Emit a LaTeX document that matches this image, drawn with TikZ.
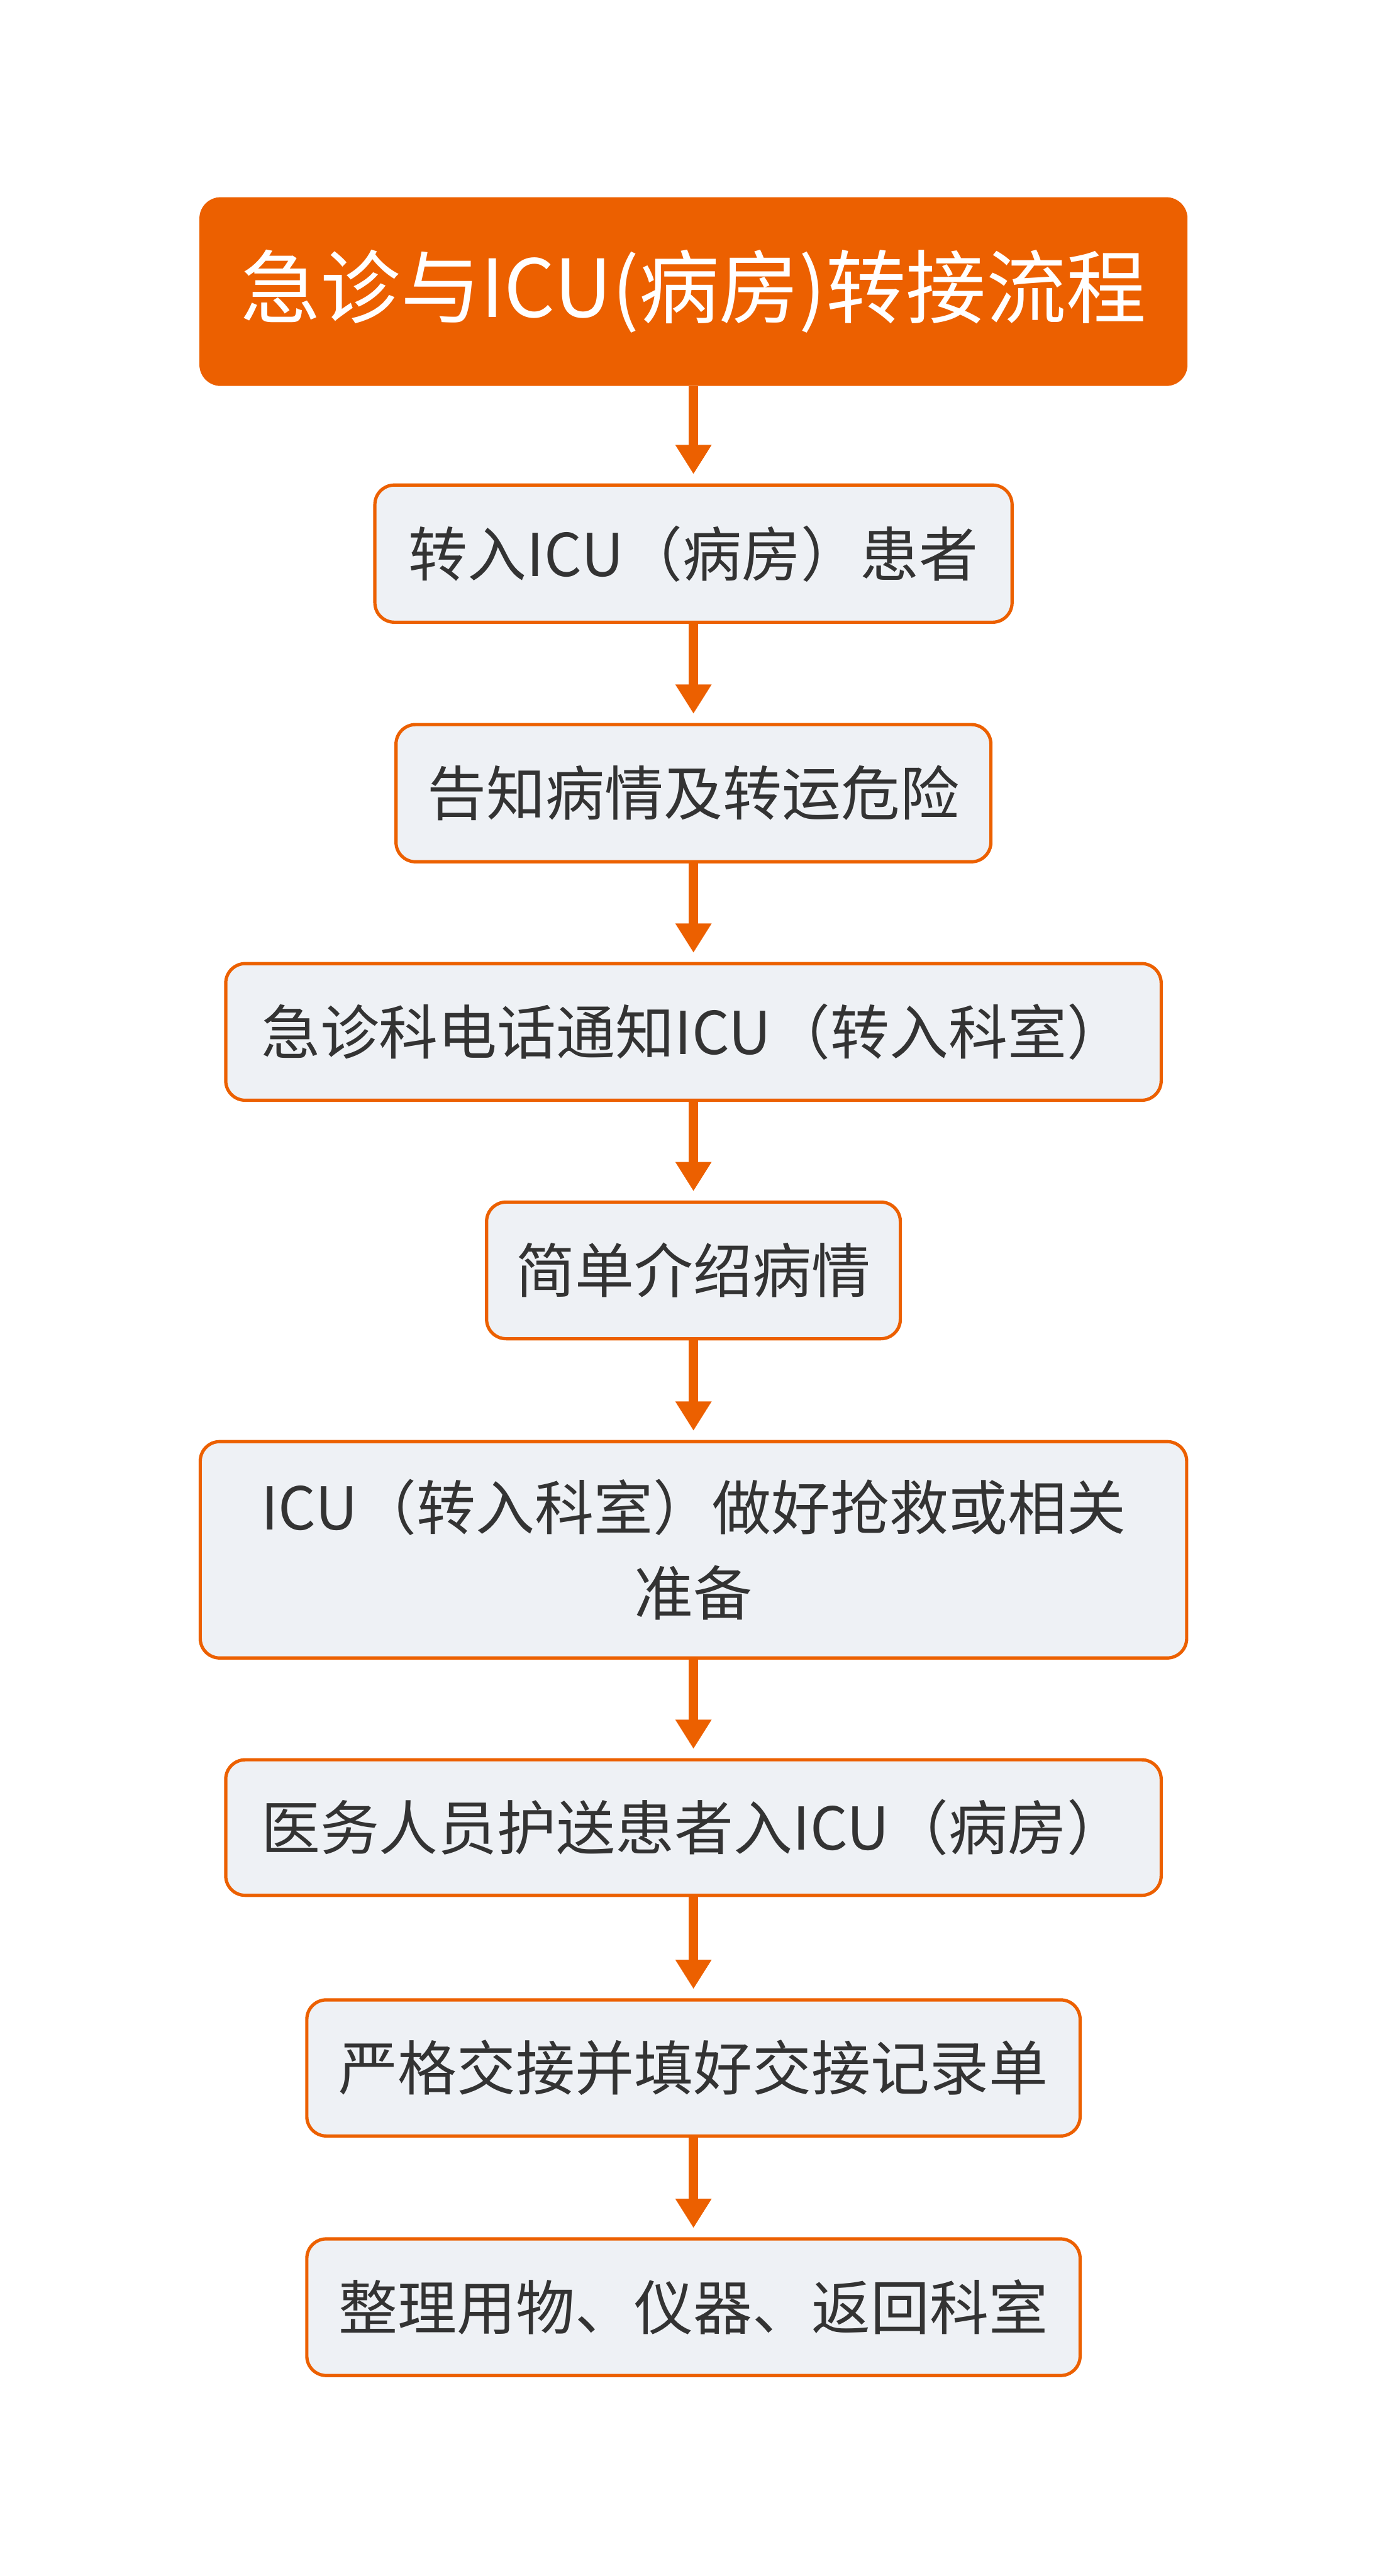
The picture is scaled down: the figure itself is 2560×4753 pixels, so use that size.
\documentclass[tikz,border=0pt]{standalone}
\usepackage{fontspec}
\setmainfont{Noto Sans CJK SC}
\usetikzlibrary{arrows.meta}
\definecolor{ora}{RGB}{236,96,0}
\definecolor{boxfill}{RGB}{238,241,245}
\definecolor{txt}{RGB}{51,51,51}
\tikzset{
  stepbox/.style={draw=ora, line width=0.06cm, fill=boxfill, rounded corners=0.36cm,
    text=txt, align=center, inner sep=0pt, font=\fontsize{31pt}{45pt}\selectfont},
  titlebox/.style={draw=ora, line width=0.02cm, fill=ora, rounded corners=0.38cm,
    text=white, align=center, inner sep=0pt, font=\fontsize{42pt}{50pt}\selectfont,
    minimum width=18.2cm, minimum height=3.46cm},
  arr/.style={draw=ora, line width=0.17cm, shorten >=0.17cm,
    -{Triangle[width=0.63cm,length=0.54cm]}, ora}
}
\begin{document}
\begin{tikzpicture}[x=0.01cm,y=-0.01cm]
\useasboundingbox (0,0) rectangle (2560,4753);
\node[titlebox] (t) at (1279.5,538) {急诊与ICU(病房)转接流程};
\node[stepbox, minimum width=11.75cm, minimum height=2.53cm] (b1) at (1279.5,1021.5) {转入ICU（病房）患者};
\node[stepbox, minimum width=10.97cm, minimum height=2.53cm] (b2) at (1279.5,1463.5) {告知病情及转运危险};
\node[stepbox, minimum width=17.25cm, minimum height=2.52cm] (b3) at (1279.5,1904) {急诊科电话通知ICU（转入科室）};
\node[stepbox, minimum width=7.63cm, minimum height=2.52cm] (b4) at (1279.5,2344) {简单介绍病情};
\node[stepbox, minimum width=18.19cm, minimum height=3.99cm] (b5) at (1279.5,2859.5) {ICU（转入科室）做好抢救或相关\\准备};
\node[stepbox, minimum width=17.25cm, minimum height=2.50cm] (b6) at (1279.5,3372) {医务人员护送患者入ICU（病房）};
\node[stepbox, minimum width=14.26cm, minimum height=2.51cm] (b7) at (1279.5,3815.5) {严格交接并填好交接记录单};
\node[stepbox, minimum width=14.26cm, minimum height=2.52cm] (b8) at (1279.5,4257) {整理用物、仪器、返回科室};
\draw[arr] (t) -- (b1);
\draw[arr] (b1) -- (b2);
\draw[arr] (b2) -- (b3);
\draw[arr] (b3) -- (b4);
\draw[arr] (b4) -- (b5);
\draw[arr] (b5) -- (b6);
\draw[arr] (b6) -- (b7);
\draw[arr] (b7) -- (b8);
\end{tikzpicture}
\end{document}
